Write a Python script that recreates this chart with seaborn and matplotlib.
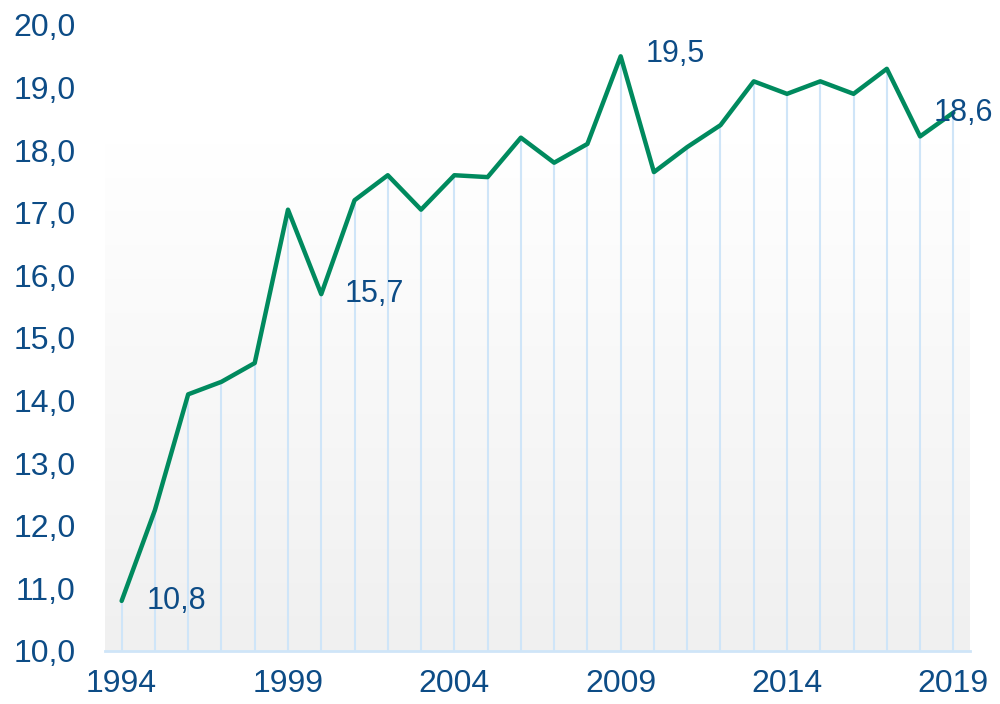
import numpy as np
import pandas as pd
import matplotlib
matplotlib.use("Agg")
import matplotlib.pyplot as plt
from matplotlib.colors import LinearSegmentedColormap
from matplotlib.ticker import FuncFormatter
import seaborn as sns

years = list(range(1994, 2020))
values = [10.8, 12.25, 14.1, 14.3, 14.6, 17.05, 15.7, 17.2, 17.6, 17.05,
          17.6, 17.57, 18.2, 17.8, 18.1, 19.5, 17.65, 18.05, 18.4, 19.1,
          18.9, 19.1, 18.9, 19.3, 18.22, 18.6]
label_years = [1994, 2000, 2009, 2019]
label_texts = ["10,8", "15,7", "19,5", "18,6"]
x_ticks = [1994, 1999, 2004, 2009, 2014, 2019]

line_color = "#008A5E"
text_color = "#0D4C86"
drop_color = "#CFE5F8"

df = pd.DataFrame({"year": years, "value": values})

sns.set_style("white")
plt.rcParams["font.family"] = ["Liberation Sans", "DejaVu Sans"]

fig = plt.figure(figsize=(10, 7.04), dpi=100)
ax = fig.add_axes([0.105, 0.0753, 0.865, 0.8892])

# soft grey gradient behind the plot
grad = np.linspace(0, 1, 256).reshape(-1, 1)
cmap = LinearSegmentedColormap.from_list("bg", ["#F0F0F0", "#FFFFFF"])
ax.imshow(grad, aspect="auto", cmap=cmap, origin="lower",
          extent=[1993.5, 2019.5, 10, 18.1], zorder=0)

ax.vlines(df["year"], 10, df["value"], color=drop_color, lw=1.5, zorder=1)
sns.lineplot(data=df, x="year", y="value", color=line_color, lw=3.2,
             ax=ax, zorder=3)

offsets = {1994: (18, 0), 2000: (17, 0), 2009: (18, 2), 2019: (-14, 0)}
for yr, txt in zip(label_years, label_texts):
    v = values[years.index(yr)]
    dx, dy = offsets[yr]
    ax.annotate(txt, (yr, v), xytext=(dx, dy), textcoords="offset points",
                ha="left", va="center", fontsize=22, color=text_color, zorder=4)

ax.set_xlim(1993.5, 2019.5)
ax.set_ylim(10, 20)
ax.set_xticks(x_ticks)
ax.set_yticks(range(10, 21))
ax.yaxis.set_major_formatter(FuncFormatter(lambda v, p: f"{v:.1f}".replace(".", ",")))
ax.tick_params(axis="both", length=0, labelsize=23, labelcolor=text_color)
ax.tick_params(axis="y", pad=21)
ax.tick_params(axis="x", pad=13)
ax.set_xlabel("")
ax.set_ylabel("")
for s in ["top", "right", "left"]:
    ax.spines[s].set_visible(False)
ax.spines["bottom"].set_color(drop_color)
ax.spines["bottom"].set_linewidth(2)

fig.savefig("out.png", dpi=100)
